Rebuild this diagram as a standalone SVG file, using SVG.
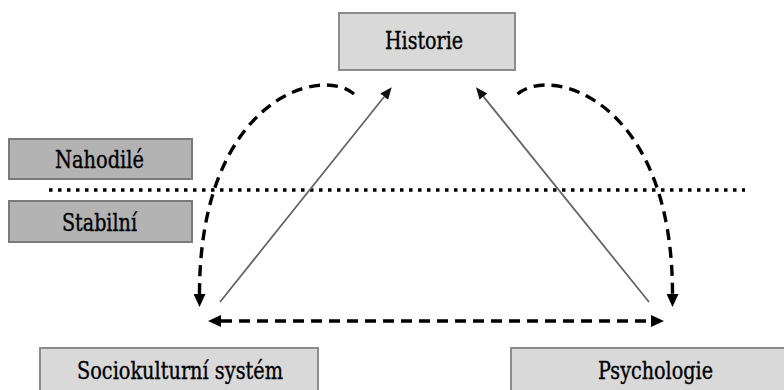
<svg xmlns="http://www.w3.org/2000/svg" width="784" height="390" viewBox="0 0 784 390">
  <style>
    text { font-family: 'DejaVu Serif', serif; font-size: 24px; font-stretch: condensed; fill: #000; stroke: #000; stroke-width: 0.35; text-anchor: middle; }
    .light { fill: #d9d9d9; stroke: #8c8c8c; stroke-width: 2; }
    .dark { fill: #b3b3b3; stroke: #7a7a7a; stroke-width: 2; }
    .dash { fill: none; stroke: #000; stroke-width: 3.4; stroke-dasharray: 11 7; }
    .gray { fill: none; stroke: #666; stroke-width: 1.8; }
    .dots { fill: none; stroke: #000; stroke-width: 3.4; stroke-dasharray: 3.5 5.5; }
  </style>
  <defs>
    <marker id="headDash" markerUnits="userSpaceOnUse" markerWidth="13" markerHeight="12" refX="0" refY="6" orient="auto-start-reverse">
      <path d="M0,0 L13,6 L0,12 z" fill="#000"/>
    </marker>
    <marker id="headGray" markerUnits="userSpaceOnUse" markerWidth="12" markerHeight="10" refX="0" refY="5" orient="auto">
      <path d="M0,0 L12,5 L0,10 z" fill="#111"/>
    </marker>
  </defs>

  <g id="connectors">
    <line id="separator" class="dots" x1="49" y1="190" x2="745" y2="190"/>
    <path id="hist-left-curve" class="dash" d="M354,94 C320,65 199.5,100 199.5,294" marker-end="url(#headDash)"/>
    <path id="hist-right-curve" class="dash" d="M517.5,94 C551.5,65 672.5,100 672.5,294" marker-end="url(#headDash)"/>
    <path id="bottom-double" class="dash" d="M221,321 L651,321" marker-start="url(#headDash)" marker-end="url(#headDash)"/>
    <path id="socio-to-hist" class="gray" d="M220,302 L384.2,96.7" marker-end="url(#headGray)"/>
    <path id="psych-to-hist" class="gray" d="M649,302 L483.5,96.6" marker-end="url(#headGray)"/>
  </g>

  <g id="historie">
    <rect class="light" x="339" y="13" width="176" height="57"/>
    <text x="424" y="48.5" textLength="78" lengthAdjust="spacingAndGlyphs">Historie</text>
  </g>
  <g id="nahodile">
    <rect class="dark" x="9" y="139" width="183" height="40"/>
    <text x="99.5" y="168" textLength="89" lengthAdjust="spacingAndGlyphs">Nahodilé</text>
  </g>
  <g id="stabilni">
    <rect class="dark" x="9" y="201" width="183" height="41"/>
    <text x="99.5" y="231" textLength="75" lengthAdjust="spacingAndGlyphs">Stabilní</text>
  </g>
  <g id="sociokulturni">
    <rect class="light" x="40" y="348" width="278" height="60"/>
    <text x="180" y="378.5" textLength="206" lengthAdjust="spacingAndGlyphs">Sociokulturní systém</text>
  </g>
  <g id="psychologie">
    <rect class="light" x="511" y="348" width="290" height="60"/>
    <text x="655.5" y="378.5" textLength="115" lengthAdjust="spacingAndGlyphs">Psychologie</text>
  </g>
</svg>
